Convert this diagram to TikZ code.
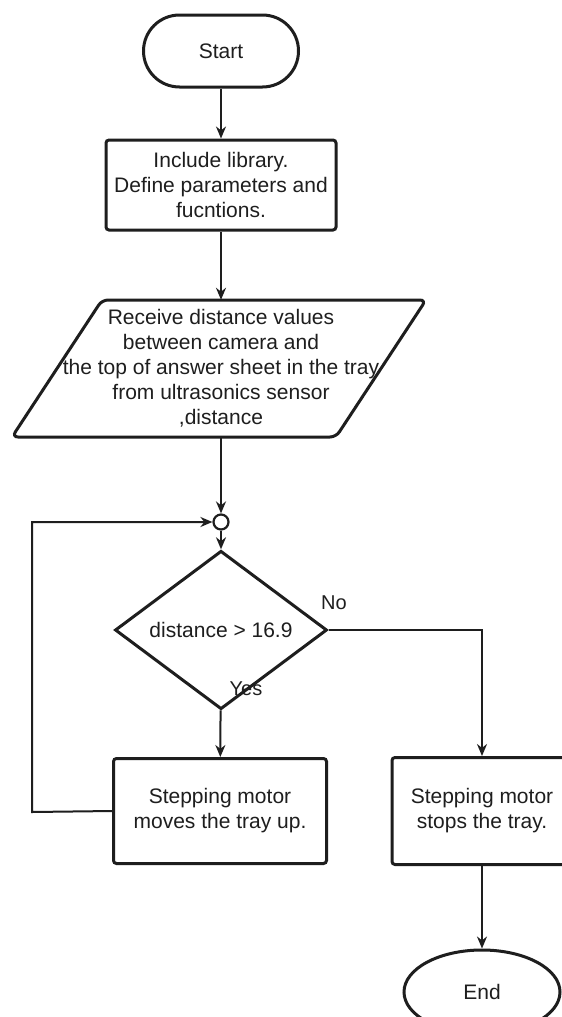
\documentclass[tikz,border=0pt]{standalone}
\usepackage{fontspec}
\setmainfont{Liberation Sans}
\usetikzlibrary{arrows.meta,shapes.geometric}
\definecolor{ink}{HTML}{1E1E1E}
\begin{document}
\begin{tikzpicture}[x=1pt,y=-1pt,
  every node/.style={font=\fontsize{21}{25}\selectfont, text=ink, align=center, inner sep=0pt},
  shapebox/.style={draw=ink, line width=3pt, rounded corners=3pt},
  conn/.style={draw=ink, line width=2pt, -{Stealth[length=12pt,width=10pt]}},
  lbl/.style={font=\fontsize{20}{24}\selectfont}
]
\useasboundingbox[fill=white] (0,0) rectangle (562,1017);
\node[shapebox, rounded corners=36pt, minimum width=155pt, minimum height=72pt] (start) at (221,51) {Start};
\node[shapebox, minimum width=230pt, minimum height=90pt] (incl) at (221,185) {Include library.\\Define parameters and\\fucntions.};
\node[minimum width=230pt, minimum height=137pt] (recv) at (221,368.5) {Receive distance values\\between camera and\\the top of answer sheet in the tray\\from ultrasonics sensor\\,distance};
\draw[shapebox, rounded corners=6pt] (102,300) -- (426,300) -- (336,437) -- (12,437) -- cycle;
\node[draw=ink, circle, line width=2.2pt, minimum size=15pt] (join) at (221,522) {};
\node[draw=ink, diamond, line width=3pt, minimum width=212pt, minimum height=105pt] (dec) at (221,630) {distance > 16.9};
\node[shapebox, minimum width=213pt, minimum height=105pt] (up) at (220,811) {Stepping motor\\moves the tray up.};
\node[shapebox, minimum width=180pt, minimum height=107pt] (stop) at (482,811) {Stepping motor\\stops the tray.};
\node[draw=ink, ellipse, line width=3pt, minimum width=156pt, minimum height=84pt] (end) at (482,992) {End};
\node[lbl] (no) at (334,603) {No};
\node[lbl] (yes) at (246,689) {Yes};
\coordinate (lp) at (32,812);
\draw[conn] (start) -- (incl);
\draw[conn] (incl) -- (recv);
\draw[conn] (recv) -- (join);
\draw[conn] (join) -- (dec);
\draw[conn] (dec) -- (up);
\draw[conn] (dec.east) -| (stop.north);
\draw[conn] (up.west) -- (lp) |- (join.west);
\draw[conn] (stop) -- (end);
\end{tikzpicture}
\end{document}
